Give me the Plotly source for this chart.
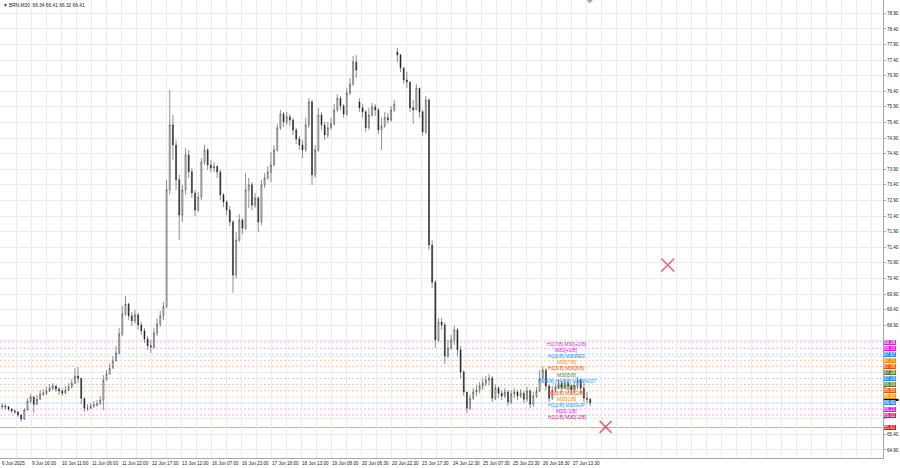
import plotly.graph_objects as go

# ---------------- data (BRN, M30 shown as 2-hour groups) ----------------
first_open = 66.28
close = [
    66.31, 66.28, 66.21, 66.15, 66.12, 66.02, 65.89, 66.18, 66.47, 66.60,
    66.37, 66.53, 66.69, 66.72, 66.79, 66.88, 66.95, 66.85, 66.79, 66.72,
    66.82, 66.92, 67.04, 67.27, 67.20, 66.56, 66.24, 66.24, 66.31, 66.34,
    66.37, 66.50, 67.14, 67.33, 67.52, 67.75, 68.01, 68.62, 69.26, 69.58,
    69.20, 69.04, 69.23, 68.91, 68.72, 68.46, 68.24, 68.20, 68.65, 68.94,
    69.20, 69.49, 73.24, 75.32, 74.68, 73.56, 72.43, 73.24, 74.36, 73.82,
    73.14, 72.59, 73.01, 74.13, 74.52, 74.04, 73.94, 74.00, 73.81, 73.08,
    72.85, 72.59, 72.21, 70.51, 71.63, 72.27, 72.01, 73.24, 73.40, 72.75,
    72.98, 72.21, 73.40, 73.62, 73.81, 74.04, 74.52, 75.23, 75.67, 75.42,
    75.58, 75.48, 75.16, 74.87, 74.68, 74.52, 75.32, 76.06, 73.72, 74.52,
    75.64, 75.32, 75.00, 75.23, 75.36, 75.80, 76.18, 75.93, 75.67, 76.34,
    76.63, 77.34, 77.08, 75.87, 75.74, 75.23, 75.64, 75.90, 75.80, 75.16,
    75.29, 75.55, 75.48, 75.80, 75.99, 77.56, 77.15, 76.76, 76.70, 75.87,
    75.80, 76.50, 75.74, 75.10, 76.12, 71.47, 70.28, 68.43, 69.00, 68.91,
    67.91, 68.17, 68.43, 68.75, 68.11, 67.40, 66.76, 66.24, 66.56, 66.76,
    66.82, 66.95, 67.04, 67.14, 67.20, 66.56, 66.88, 66.72, 66.63, 66.76,
    66.44, 66.69, 66.76, 66.63, 66.72, 66.53, 66.79, 66.37, 66.63, 66.79,
    67.20, 67.46, 66.95, 66.56, 66.82, 66.92, 67.04, 66.92, 67.04, 66.95,
    66.82, 66.95, 67.14, 66.88, 66.56, 66.53, 66.41,
]
high = [
    66.40, 66.37, 66.31, 66.24, 66.21, 66.15, 66.05, 66.24, 66.56, 66.69,
    66.63, 66.66, 66.82, 66.85, 66.92, 67.01, 67.04, 66.98, 66.92, 66.85,
    66.95, 67.04, 67.17, 67.52, 67.56, 67.20, 66.47, 66.37, 66.40, 66.47,
    66.50, 66.63, 67.30, 67.46, 67.68, 67.91, 68.24, 68.81, 69.52, 69.84,
    69.62, 69.33, 69.39, 69.30, 69.01, 68.81, 68.55, 68.43, 68.81, 69.13,
    69.36, 69.65, 73.56, 76.44, 75.64, 74.84, 73.72, 73.40, 74.58, 74.52,
    73.94, 73.24, 73.17, 74.26, 74.68, 74.58, 74.20, 74.13, 74.00, 73.88,
    73.14, 72.91, 72.72, 72.27, 71.89, 72.46, 72.33, 73.78, 73.62, 73.49,
    73.14, 73.04, 73.56, 73.78, 74.00, 74.46, 74.68, 75.36, 75.80, 75.74,
    75.74, 75.67, 75.55, 75.23, 74.97, 74.84, 75.55, 76.18, 76.12, 74.68,
    75.87, 75.74, 75.42, 75.42, 75.55, 75.99, 76.31, 76.25, 75.99, 76.50,
    76.82, 77.53, 77.56, 76.18, 75.99, 75.80, 75.87, 76.03, 75.99, 75.87,
    75.55, 75.74, 75.71, 75.93, 76.12, 77.79, 77.60, 77.15, 77.02, 76.50,
    76.12, 76.63, 76.44, 75.80, 76.25, 76.18, 71.63, 70.35, 69.13, 69.13,
    69.00, 68.43, 68.59, 68.88, 68.81, 68.24, 67.46, 66.76, 66.69, 66.88,
    66.98, 67.08, 67.20, 67.27, 67.33, 67.27, 67.01, 66.95, 66.82, 66.88,
    66.82, 66.82, 66.88, 66.82, 66.85, 66.79, 66.92, 66.85, 66.76, 66.92,
    67.46, 67.59, 67.52, 67.01, 66.95, 67.04, 67.17, 67.11, 67.17, 67.11,
    67.01, 67.08, 67.24, 67.20, 67.08, 66.76, 66.56,
]
low = [
    66.21, 66.18, 66.15, 66.08, 66.05, 65.96, 65.80, 65.86, 66.15, 66.40,
    66.08, 66.34, 66.50, 66.63, 66.66, 66.76, 66.82, 66.76, 66.66, 66.63,
    66.69, 66.79, 66.88, 67.01, 67.04, 66.37, 66.12, 66.15, 66.21, 66.24,
    66.28, 66.37, 66.18, 67.14, 67.33, 67.59, 67.78, 67.95, 68.55, 69.20,
    69.07, 68.88, 68.94, 68.75, 68.59, 68.33, 68.11, 68.01, 68.14, 68.55,
    68.85, 69.07, 69.46, 73.08, 74.20, 73.24, 71.63, 72.21, 73.08, 73.62,
    72.98, 72.40, 72.53, 72.91, 74.04, 73.88, 73.81, 73.81, 73.62, 72.91,
    72.69, 72.43, 72.08, 69.93, 70.41, 71.57, 71.82, 71.95, 72.66, 72.59,
    72.66, 71.89, 72.11, 73.30, 73.56, 73.49, 74.00, 74.46, 75.16, 75.26,
    75.32, 75.29, 75.00, 74.71, 74.52, 74.26, 74.46, 75.23, 73.40, 73.62,
    74.46, 75.16, 74.84, 74.90, 75.16, 75.29, 75.74, 75.80, 75.55, 75.61,
    76.28, 76.57, 76.82, 75.74, 75.55, 75.10, 75.16, 75.58, 75.61, 75.03,
    74.52, 75.23, 75.36, 75.42, 75.74, 77.34, 77.02, 76.63, 76.50, 75.74,
    75.36, 75.80, 75.55, 74.97, 75.03, 71.31, 70.09, 68.17, 68.36, 68.75,
    67.65, 67.85, 68.11, 68.27, 67.91, 67.20, 66.63, 66.08, 66.18, 66.50,
    66.63, 66.72, 66.82, 66.95, 66.98, 66.44, 66.50, 66.56, 66.50, 66.56,
    66.31, 66.37, 66.56, 66.50, 66.56, 66.40, 66.44, 66.24, 66.28, 66.56,
    66.76, 67.08, 66.82, 66.44, 66.50, 66.72, 66.85, 66.76, 66.85, 66.79,
    66.69, 66.72, 66.85, 66.69, 66.44, 66.40, 66.31,
]
# opens after session gaps (19 Jun close -> 20 Jun, weekend -> 23 Jun)
session_opens = {113: 76.06, 125: 77.66}

tick_labels = ["6 Jun 2025", "9 Jun 16:00", "10 Jun 11:00", "11 Jun 06:00", "11 Jun 22:00",
               "12 Jun 17:00", "13 Jun 12:00", "16 Jun 07:00", "16 Jun 23:00", "17 Jun 18:00",
               "18 Jun 13:00", "19 Jun 08:00", "20 Jun 06:30", "20 Jun 22:30", "23 Jun 17:30",
               "24 Jun 12:30", "25 Jun 07:30", "25 Jun 23:30", "26 Jun 18:30", "27 Jun 13:30"]
tick_bars = [0, 38, 76, 114, 152, 190, 228, 266, 304, 342,
             380, 418, 456, 494, 532, 570, 608, 646, 684, 722]

# price scale: 64.90 .. 78.90 every 0.50; the ones hidden behind the level boxes carry no text
price_ticks = [64.90, 65.40, 65.90, 66.40, 66.90, 67.40, 67.90, 68.40, 68.90, 69.40, 69.90,
               70.40, 70.90, 71.40, 71.90, 72.40, 72.90, 73.40, 73.90, 74.40, 74.90, 75.40,
               75.90, 76.40, 76.90, 77.40, 77.90, 78.40, 78.90]
hidden_ticks = [65.90, 66.40, 66.90, 67.40, 67.90, 68.40]

level_prices = [68.36, 68.16, 67.97, 67.77, 67.58, 67.38, 67.19, 66.99, 66.80, 66.60, 66.41, 66.21, 66.02]
level_names = ["H1[7/8] M30[+2/8]", "M30[+1/8]", "H1[6/8] M30RES", "M30[7/8]", "H1[5/8] M30[6/8]",
               "M30[5/8]", "H1[4/8] H4[6/8] M30PIVOT", "M30[3/8]", "H1[3/8] M30[2/8]", "M30[1/8]",
               "H1[2/8] M30SUP", "M30[-1/8]", "H1[1/8] M30[-2/8]"]
level_colors = ["#C832B4", "#FF00FF", "#1E90FF", "#FF8C00", "#FF4500", "#5B7A2E", "#1E90FF",
                "#5B7A2E", "#FF4500", "#FF8C00", "#1E90FF", "#FF00FF", "#C71585"]
support_price = 65.62
last_price = 66.41
header = "\u25BC BRN,M30  66.34 66.41 66.32 66.41"

cross_bars = [843.6, 765.0]
cross_prices = [70.83, 65.64]
label_bar = 716

# ---------------- build ----------------
n = len(close)
opens = [first_open] + close[:-1]
for k, v in session_opens.items():
    opens[k] = v
hi = [max(h, o, c) for h, o, c in zip(high, opens, close)]
lo = [min(l, o, c) for l, o, c in zip(low, opens, close)]
bars = [4 * i + 1.5 for i in range(n)]

FONT = "Liberation Sans, Arial, sans-serif"
fig = go.Figure()
fig.add_trace(go.Candlestick(
    x=bars, open=opens, high=hi, low=lo, close=close,
    increasing=dict(line=dict(color="#222222", width=0.5), fillcolor="#FFFFFF"),
    decreasing=dict(line=dict(color="#222222", width=0.5), fillcolor="#222222"),
    whiskerwidth=0, showlegend=False, hoverinfo="skip"))

fig.add_trace(go.Scatter(
    x=cross_bars, y=cross_prices, mode="markers", showlegend=False, hoverinfo="skip",
    marker=dict(symbol="x-thin", size=[13, 12], color="#E6284B",
                line=dict(width=1.7, color="#E6284B"))))

shapes = []
annotations = []
for p, name, col in zip(level_prices, level_names, level_colors):
    shapes.append(dict(type="line", xref="x domain", x0=0, x1=1, yref="y", y0=p, y1=p,
                       line=dict(color=col, width=1, dash="2px,2px"), opacity=0.35, layer="below"))
    annotations.append(dict(x=label_bar, y=p, xref="x", yref="y", text=name, showarrow=False,
                            xanchor="center", yanchor="middle", yshift=-2.5, borderwidth=0,
                            font=dict(family=FONT, size=4.9, color=col)))
shapes.append(dict(type="line", xref="x domain", x0=0, x1=1, yref="y", y0=support_price, y1=support_price,
                   line=dict(color="#FF0000", width=1), opacity=0.4, layer="below"))
# chart-shift marker at top
shapes.append(dict(type="path", xref="paper", yref="paper",
                   path="M 0.6645 1 L 0.6715 1 L 0.668 0.9925 Z",
                   fillcolor="#A8A8A8", line=dict(width=0)))
# bid-price box peeking out above the matching level box
shapes.append(dict(type="rect", xref="paper", yref="y", x0=1.001, x1=1.0175,
                   y0=last_price + 0.06, y1=last_price + 0.13,
                   fillcolor="#000000", line=dict(width=0)))

# price boxes on the right axis
for p, col in zip(level_prices + [support_price], level_colors + ["#FF0000"]):
    annotations.append(dict(x=1, y=p, xref="paper", yref="y", text=f"{p:.2f}", showarrow=False,
                            xanchor="left", yanchor="middle", xshift=1, bgcolor=col,
                            borderpad=0, borderwidth=0,
                            font=dict(family=FONT, size=4.5, color="#FFFFFF")))

# time labels
for b, t in zip(tick_bars, tick_labels):
    annotations.append(dict(x=b, y=0, xref="x", yref="paper", text=t, showarrow=False,
                            xanchor="left", yanchor="top", xshift=-1, yshift=-0.5,
                            font=dict(family=FONT, size=4.6, color="#222222")))

annotations.append(dict(x=0, y=1, xref="paper", yref="paper", text=header, showarrow=False,
                        xanchor="left", yanchor="top", xshift=1, yshift=-1,
                        font=dict(family=FONT, size=4.8, color="#222222")))

tick_text = ["" if t in hidden_ticks else f"{t:.2f}" for t in price_ticks]

bar_per_px = 38 / 30.0
fig.update_layout(
    width=900, height=468,
    margin=dict(l=0, r=17, t=0, b=10, pad=0),
    paper_bgcolor="#FFFFFF", plot_bgcolor="#FFFFFF",
    boxgap=0.55,
    shapes=shapes, annotations=annotations,
    xaxis=dict(range=[-1 * bar_per_px, 881 * bar_per_px], tick0=0, dtick=19,
               showgrid=True, gridcolor="#EBEBEB", gridwidth=1, showticklabels=False,
               zeroline=False, showline=True, linecolor="#A8A8A8", linewidth=1,
               rangeslider=dict(visible=False), fixedrange=True, automargin=False),
    yaxis=dict(side="right", range=[64.643, 79.326], tickmode="array",
               tickvals=price_ticks, ticktext=tick_text,
               showgrid=True, gridcolor="#EBEBEB", gridwidth=1, ticks="outside", ticklen=2,
               tickcolor="#A8A8A8", tickfont=dict(family=FONT, size=4.6, color="#222222"),
               showline=True, linecolor="#A8A8A8", linewidth=1, zeroline=False,
               automargin=False, fixedrange=True),
)

fig.write_html("out.html", config={"displayModeBar": False},
               post_script="document.body.style.margin='0';document.body.style.overflow='hidden';")
